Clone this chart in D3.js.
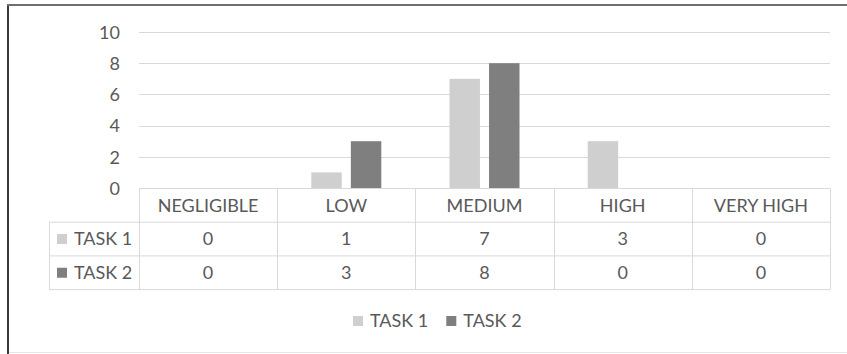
<!DOCTYPE html>
<html>
<head>
<meta charset="utf-8">
<script src="https://cdn.jsdelivr.net/npm/d3@7"></script>
<style>
  body { margin: 0; background: #fff; }
  text { font-family: Lato, "Open Sans", sans-serif; fill: #595959; }
</style>
</head>
<body>
<div id="chart"></div>
<script>
// data
const CATEGORIES = ["NEGLIGIBLE", "LOW", "MEDIUM", "HIGH", "VERY HIGH"];
const SERIES = ["TASK 1", "TASK 2"];
const TASK1 = [0, 1, 7, 3, 0];
const TASK2 = [0, 3, 8, 0, 0];
const Y_TICKS = [0, 2, 4, 6, 8, 10];

const COLORS = {"TASK 1": "#d0cfcf", "TASK 2": "#7f7f7f"};
const VALUES = {"TASK 1": TASK1, "TASK 2": TASK2};

// frame
const FRAME_WIDTH = 847;
const FRAME_HEIGHT = 354;
const PLOT = {left: 139, right: 830, top: 32, bottom: 188};
const ROW_H = 33.7;
const LABEL_LEFT = 49;
const GRID = "#d9d9d9";

const svg = d3.select("#chart")
  .append("svg")
    .attr("width", FRAME_WIDTH)
    .attr("height", FRAME_HEIGHT);

// chart area border (left + top dark, bottom light)
svg.append("line").attr("x1", 8).attr("x2", 8).attr("y1", 4).attr("y2", 354)
  .attr("stroke", "#3a3a3a").attr("stroke-width", 2);
svg.append("line").attr("x1", 7).attr("x2", 847).attr("y1", 5).attr("y2", 5)
  .attr("stroke", "#6f6f6f").attr("stroke-width", 2);
svg.append("line").attr("x1", 9).attr("x2", 847).attr("y1", 352.5).attr("y2", 352.5)
  .attr("stroke", "#e6e6e6").attr("stroke-width", 1);

// scales
const Y_SCALE = d3.scaleLinear().domain([0, 10]).range([PLOT.bottom, PLOT.top]);
const X0 = d3.scaleBand().domain(CATEGORIES).range([PLOT.left, PLOT.right]).padding(0);
const GROUP_W = 70;
const X1 = d3.scaleBand().domain(SERIES).range([0, GROUP_W]).paddingInner(0.23);
const groupOffset = (X0.bandwidth() - GROUP_W) / 2;

// gridlines
svg.append("g")
  .selectAll("line")
  .data(Y_TICKS.filter(t => t > 0))
  .enter().append("line")
    .attr("x1", PLOT.left).attr("x2", PLOT.right)
    .attr("y1", d => Math.round(Y_SCALE(d)) + 0.5)
    .attr("y2", d => Math.round(Y_SCALE(d)) + 0.5)
    .attr("stroke", GRID);

// y axis labels
const yAxis = svg.append("g")
  .attr("transform", "translate(" + 120 + ",0)")
  .call(d3.axisLeft(Y_SCALE).tickValues(Y_TICKS).tickSize(0).tickPadding(0));
yAxis.select(".domain").remove();
yAxis.selectAll("text")
  .attr("font-size", 18)
  .attr("dy", "0.35em");
yAxis.attr("font-family", null).attr("font-size", null);

// bars
svg.append("g")
  .selectAll("g")
  .data(CATEGORIES)
  .enter().append("g")
    .attr("transform", d => "translate(" + (X0(d) + groupOffset) + ",0)")
  .selectAll("rect")
  .data((c, i) => SERIES.map(s => ({s: s, v: VALUES[s][i]})))
  .enter().append("rect")
    .attr("x", d => X1(d.s))
    .attr("y", d => Y_SCALE(d.v))
    .attr("width", X1.bandwidth())
    .attr("height", d => Y_SCALE(0) - Y_SCALE(d.v))
    .attr("fill", d => COLORS[d.s]);

// data table
const table = svg.append("g");
const TABLE_TOP = PLOT.bottom + 0.5;

// horizontal lines
table.append("line").attr("x1", PLOT.left).attr("x2", PLOT.right)
  .attr("y1", TABLE_TOP).attr("y2", TABLE_TOP).attr("stroke", GRID);
[1, 2, 3].forEach(r => {
  table.append("line").attr("x1", LABEL_LEFT).attr("x2", PLOT.right)
    .attr("y1", TABLE_TOP + r * ROW_H).attr("y2", TABLE_TOP + r * ROW_H).attr("stroke", GRID);
});
// vertical lines
CATEGORIES.forEach(c => {
  table.append("line").attr("x1", Math.round(X0(c)) + 0.5).attr("x2", Math.round(X0(c)) + 0.5)
    .attr("y1", TABLE_TOP).attr("y2", TABLE_TOP + 3 * ROW_H).attr("stroke", GRID);
});
table.append("line").attr("x1", PLOT.right + 0.5).attr("x2", PLOT.right + 0.5)
  .attr("y1", TABLE_TOP).attr("y2", TABLE_TOP + 3 * ROW_H).attr("stroke", GRID);
table.append("line").attr("x1", LABEL_LEFT + 0.5).attr("x2", LABEL_LEFT + 0.5)
  .attr("y1", TABLE_TOP + ROW_H).attr("y2", TABLE_TOP + 3 * ROW_H).attr("stroke", GRID);

// header
table.selectAll(".head")
  .data(CATEGORIES)
  .enter().append("text")
    .attr("x", d => X0(d) + X0.bandwidth() / 2)
    .attr("y", TABLE_TOP + ROW_H / 2)
    .attr("dy", "0.35em")
    .attr("text-anchor", "middle")
    .attr("font-size", 18)
    .text(d => d);

// rows
SERIES.forEach((s, r) => {
  const cy = TABLE_TOP + ROW_H * (r + 1) + ROW_H / 2;
  table.append("rect")
    .attr("x", 57).attr("y", cy - 5).attr("width", 10).attr("height", 10)
    .attr("fill", COLORS[s]);
  table.append("text")
    .attr("x", 74).attr("y", cy).attr("dy", "0.35em")
    .attr("font-size", 18)
    .text(s);
  table.selectAll(".cell" + r)
    .data(VALUES[s])
    .enter().append("text")
      .attr("x", (d, i) => X0(CATEGORIES[i]) + X0.bandwidth() / 2)
      .attr("y", cy)
      .attr("dy", "0.35em")
      .attr("text-anchor", "middle")
      .attr("font-size", 18)
      .text(d => d);
});

// legend
const legend = svg.append("g");
let lx = 353;
const ly = 321;
SERIES.forEach(s => {
  legend.append("rect")
    .attr("x", lx).attr("y", ly - 5).attr("width", 10).attr("height", 10)
    .attr("fill", COLORS[s]);
  const t = legend.append("text")
    .attr("x", lx + 17).attr("y", ly).attr("dy", "0.35em")
    .attr("font-size", 18)
    .text(s);
  lx = lx + 17 + t.node().getComputedTextLength() + 18;
});
</script>
</body>
</html>
